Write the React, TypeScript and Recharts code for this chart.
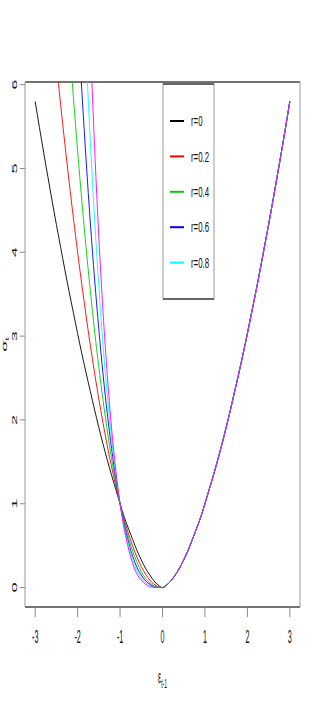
import { LineChart, Line, XAxis, YAxis, ReferenceLine } from "recharts";

// x grid of the curves (epsilon_{t-1})
const xs = [
  -3.0, -2.9, -2.8, -2.7, -2.6, -2.5, -2.4, -2.3, -2.2, -2.1, -2.0,
  -1.9, -1.8, -1.7, -1.6, -1.5, -1.4, -1.3, -1.2, -1.1, -1.0,
  -0.9, -0.8, -0.7, -0.6, -0.5, -0.4, -0.3, -0.2, -0.1, 0.0,
  0.1, 0.2, 0.3, 0.4, 0.5, 0.6, 0.7, 0.8, 0.9, 1.0,
  1.1, 1.2, 1.3, 1.4, 1.5, 1.6, 1.7, 1.8, 1.9, 2.0,
  2.1, 2.2, 2.3, 2.4, 2.5, 2.6, 2.7, 2.8, 2.9, 3.0,
];

// all curves share the same branch for positive shocks (x = 0.1 .. 3.0)
const rightBranch = [
  0.03, 0.08, 0.15, 0.23, 0.33, 0.44, 0.57, 0.7, 0.84, 1.0,
  1.17, 1.34, 1.52, 1.71, 1.91, 2.12, 2.34, 2.56, 2.79, 3.03,
  3.28, 3.53, 3.79, 4.06, 4.33, 4.61, 4.9, 5.19, 5.49, 5.8,
];

// negative shocks, x = -3.0 .. 0
const leftR0 = [
  5.8, 5.49, 5.19, 4.9, 4.61, 4.33, 4.06, 3.79, 3.53, 3.28, 3.03,
  2.79, 2.56, 2.34, 2.12, 1.91, 1.71, 1.52, 1.34, 1.17, 1.0,
  0.84, 0.7, 0.57, 0.44, 0.33, 0.23, 0.15, 0.08, 0.03, 0,
];
const leftR02 = [
  null, null, null, 7.29, 6.76, 6.25, 5.76, 5.29, 4.84, 4.41, 4.0,
  3.61, 3.24, 2.89, 2.56, 2.25, 1.96, 1.69, 1.44, 1.21, 1.0,
  0.81, 0.64, 0.49, 0.36, 0.25, 0.16, 0.09, 0.04, 0.01, 0,
];
const leftR04 = [
  null, null, null, null, null, null, null, 7.26, 6.53, 5.85, 5.21,
  4.61, 4.05, 3.54, 3.06, 2.63, 2.23, 1.87, 1.54, 1.25, 1.0,
  0.78, 0.59, 0.43, 0.3, 0.19, 0.11, 0.06, 0.02, 0.004, 0,
];
const leftR06 = [
  null, null, null, null, null, null, null, null, null, 7.81, 6.82,
  5.92, 5.1, 4.35, 3.68, 3.08, 2.54, 2.07, 1.66, 1.3, 1.0,
  0.75, 0.54, 0.37, 0.24, 0.15, 0.08, 0.04, 0.01, 0.002, 0,
];
const leftR08 = [
  null, null, null, null, null, null, null, null, null, null, null,
  7.55, 6.37, 5.32, 4.4, 3.59, 2.89, 2.29, 1.78, 1.35, 1.0,
  0.72, 0.5, 0.33, 0.2, 0.11, 0.06, 0.02, 0.006, 0.001, 0,
];
const leftR1 = [
  null, null, null, null, null, null, null, null, null, null, null,
  null, 7.96, 6.51, 5.25, 4.18, 3.28, 2.53, 1.9, 1.4, 1.0,
  0.69, 0.46, 0.28, 0.16, 0.09, 0.04, 0.01, 0.003, 0.0003, 0,
];

const series = [
  { key: "r0", label: "r=0", color: "#000000", left: leftR0 },
  { key: "r02", label: "r=0.2", color: "#FF0000", left: leftR02 },
  { key: "r04", label: "r=0.4", color: "#00CD00", left: leftR04 },
  { key: "r06", label: "r=0.6", color: "#0000FF", left: leftR06 },
  { key: "r08", label: "r=0.8", color: "#00FFFF", left: leftR08 },
  { key: "r1", label: "", color: "#FF00FF", left: leftR1 },
];

const xTicks = [-3, -2, -1, 0, 1, 2, 3];
const yTicks = [0, 1, 2, 3, 4, 5, 6];

const data = xs.map((x, i) => {
  const row: Record<string, number | null> = { x };
  series.forEach((s) => {
    row[s.key] = i < s.left.length ? s.left[i] : rightBranch[i - s.left.length];
  });
  return row;
});

const FONT = "'Liberation Sans', Arial, sans-serif";

function XTick(props: any) {
  const { x, y, payload } = props;
  return (
    <g transform={`translate(${x},${y + 17}) scale(0.55,1.4)`}>
      <text textAnchor="middle" dy="0.36em" fontSize={13} fontFamily={FONT} fill="#111">
        {payload.value}
      </text>
    </g>
  );
}

function YTick(props: any) {
  const { x, y, payload } = props;
  return (
    <g transform={`translate(${x - 3.5},${y}) scale(0.55,1.4) rotate(-90)`}>
      <text textAnchor="middle" dy="0.36em" fontSize={13} fontFamily={FONT} fill="#111">
        {payload.value}
      </text>
    </g>
  );
}

function XLabel(props: any) {
  const vb = props.viewBox || {};
  const cx = vb.x + vb.width / 2;
  return (
    <g transform={`translate(${cx},${vb.y + 69}) scale(0.55,1.4)`}>
      <text textAnchor="middle" dy="0.36em" fontSize={13} fontFamily={FONT} fill="#111">
        ε<tspan fontSize={9} dy="4">t-1</tspan>
      </text>
    </g>
  );
}

function YLabel(props: any) {
  const vb = props.viewBox || {};
  const cy = vb.y + vb.height / 2;
  return (
    <g transform={`translate(4,${cy}) scale(0.55,1.4) rotate(-90)`}>
      <text textAnchor="middle" dy="0.36em" fontSize={13} fontFamily={FONT} fill="#111">
        σ<tspan fontSize={9} dy="4">t</tspan>
      </text>
    </g>
  );
}

function LegendBox() {
  const items = series.filter((s) => s.label);
  return (
    <svg
      width={53}
      height={217}
      style={{ position: "absolute", left: 162, top: 83, overflow: "visible" }}
    >
      <rect x={1} y={1} width={51} height={215} fill="#fff" stroke="#999" strokeWidth={1} />
      <line x1={1} y1={1} x2={52} y2={1} stroke="#444" strokeWidth={1.5} />
      <line x1={1} y1={216} x2={52} y2={216} stroke="#444" strokeWidth={1.5} />
      {items.map((s, i) => {
        const cy = 38 + i * 35.4;
        return (
          <g key={s.key}>
            <line x1={8} y1={cy} x2={22} y2={cy} stroke={s.color} strokeWidth={2} />
            <g transform={`translate(29,${cy}) scale(0.75,1.4)`}>
              <text dy="0.36em" fontSize={10.5} fontFamily={FONT} fill="#111">
                {s.label}
              </text>
            </g>
          </g>
        );
      })}
    </svg>
  );
}

export default function App() {
  return (
    <div style={{ position: "absolute", left: 0, top: 0, width: 313, height: 709, background: "#fff" }}>
      <LineChart
        width={313}
        height={709}
        data={data}
        margin={{ top: 82, right: 13, bottom: 42, left: 0 }}
      >
        <XAxis
          dataKey="x"
          type="number"
          domain={[-3.24, 3.24]}
          ticks={xTicks}
          allowDataOverflow
          axisLine={false}
          tickSize={10}
          tickLine={{ stroke: "#888" }}
          height={60}
          tick={XTick}
          label={{ content: XLabel }}
        />
        <YAxis
          type="number"
          domain={[-0.232, 6.032]}
          ticks={yTicks}
          allowDataOverflow
          axisLine={false}
          tickSize={5}
          tickLine={{ stroke: "#888" }}
          width={25}
          tick={YTick}
          label={{ content: YLabel }}
        />
        <ReferenceLine y={6.032} stroke="#444" strokeWidth={1.5} ifOverflow="visible" />
        <ReferenceLine y={-0.232} stroke="#444" strokeWidth={1.5} ifOverflow="visible" />
        <ReferenceLine x={-3.24} stroke="#999" strokeWidth={1} ifOverflow="visible" />
        <ReferenceLine x={3.24} stroke="#999" strokeWidth={1} ifOverflow="visible" />
        {series.map((s) => (
          <Line
            key={s.key}
            dataKey={s.key}
            type="monotone"
            stroke={s.color}
            strokeWidth={0.9}
            dot={false}
            activeDot={false}
            isAnimationActive={false}
          />
        ))}
      </LineChart>
      <LegendBox />
    </div>
  );
}
